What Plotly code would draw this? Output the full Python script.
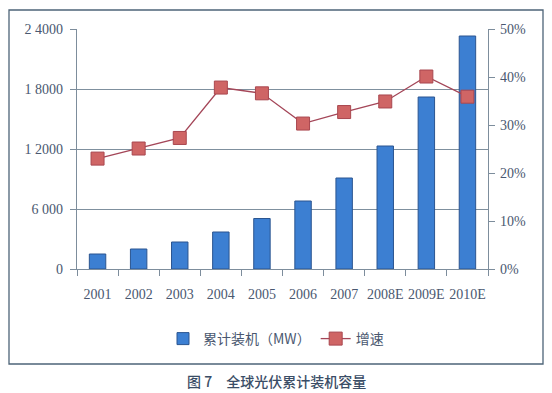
import plotly.graph_objects as go

years = ["2001", "2002", "2003", "2004", "2005", "2006", "2007", "2008E", "2009E", "2010E"]
capacity_mw = [1500, 2000, 2700, 3700, 5050, 6800, 9100, 12300, 17200, 23300]
growth_rate = [0.23, 0.251, 0.273, 0.378, 0.366, 0.303, 0.327, 0.349, 0.401, 0.359]
left_tickvals = [0, 6000, 12000, 18000, 24000]
left_ticktext = ["0", "6 000", "1 2000", "1 8000", "2 4000"]
right_tickvals = [0, 0.1, 0.2, 0.3, 0.4, 0.5]
right_ticktext = ["0%", "10%", "20%", "30%", "40%", "50%"]

TXT = "#4a5870"
SERIF = "Liberation Serif"
CJK = "Noto Sans CJK SC"

fig = go.Figure()
fig.add_trace(go.Bar(
    x=years, y=capacity_mw, name="累计装机（MW）",
    marker=dict(color="#3c7fd2", line=dict(color="#2b5590", width=1)),
    yaxis="y",
))
fig.add_trace(go.Scatter(
    x=years, y=growth_rate, name="增速", mode="lines+markers",
    line=dict(color="#a44658", width=1.3),
    marker=dict(symbol="square", size=13, color="#cf6565",
                line=dict(color="#a9474f", width=1)),
    yaxis="y2",
))

# page body has an 8px margin: figure coordinates = page coordinates - 8
OFF = 8
W, H = 552 - OFF, 393 - OFF
L, R, T, B = 77 - OFF, 488 - OFF, 29 - OFF, 269 - OFF
pw, ph = R - L, B - T

def px(x):
    return (x - OFF - L) / pw

def py(y):
    return (B - (y - OFF)) / ph

fig.update_layout(
    width=W, height=H,
    margin=dict(l=L, r=W - R, t=T, b=H - B, autoexpand=False),
    paper_bgcolor="white", plot_bgcolor="white",
    bargap=0.6,
    showlegend=True,
    legend=dict(orientation="h", x=px(163), y=py(339), xanchor="left", yanchor="middle",
                font=dict(family=CJK, size=14, color=TXT), itemwidth=30,
                bgcolor="rgba(0,0,0,0)", tracegroupgap=0),
    xaxis=dict(type="category", showline=True, linecolor="#7d8d9c", linewidth=1.2,
               ticks="outside", tickson="boundaries", ticklen=6, tickcolor="#7d8d9c",
               tickfont=dict(family=SERIF, size=14, color=TXT), showgrid=False,
               ticklabelstandoff=12,
               tickangle=0, automargin=False, range=[-0.5, 9.5]),
    yaxis=dict(range=[0, 24000], tickvals=left_tickvals, ticktext=left_ticktext,
               showline=True, linecolor="#7d8d9c", linewidth=1.2,
               ticks="outside", ticklen=6, tickcolor="#7d8d9c", ticklabelstandoff=4,
               showgrid=True, gridcolor="#7f909e", gridwidth=1, automargin=False,
               tickfont=dict(family=SERIF, size=14, color=TXT), zeroline=False),
    yaxis2=dict(range=[0, 0.5], tickvals=right_tickvals, ticktext=right_ticktext,
                overlaying="y", side="right", showline=True, linecolor="#7d8d9c",
                linewidth=1.2, ticks="outside", ticklen=6, tickcolor="#7d8d9c",
                showgrid=False, zeroline=False, automargin=False, ticklabelstandoff=2,
                tickfont=dict(family=SERIF, size=14, color=TXT)),
    shapes=[
        dict(type="rect", xref="paper", yref="paper",
             x0=px(9), x1=px(543), y0=py(364), y1=py(10),
             line=dict(color="#4d6478", width=1.3), fillcolor="rgba(0,0,0,0)",
             layer="below"),
    ],
    annotations=[
        dict(text="图 7　全球光伏累计装机容量", xref="paper", yref="paper",
             x=px(276), y=py(381), xanchor="center", yanchor="middle",
             showarrow=False, font=dict(family=CJK, size=14, color="#3a4d66", weight=500)),
    ],
)

fig.write_html("out.html")
